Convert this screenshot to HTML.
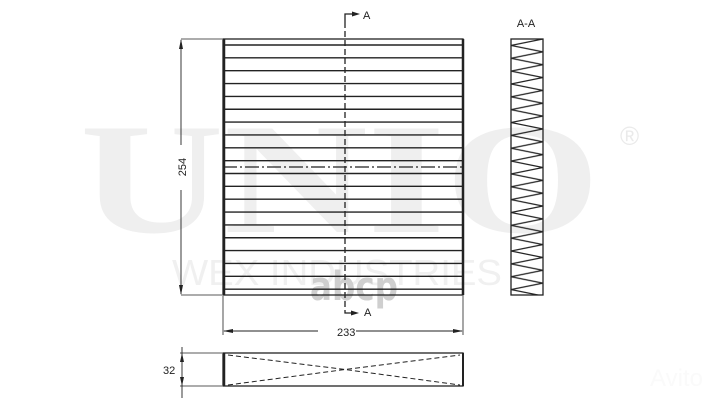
<!DOCTYPE html>
<html><head><style>html,body{margin:0;padding:0;background:#fff;width:720px;height:405px;overflow:hidden}</style></head>
<body>
<svg width="720" height="405" xmlns="http://www.w3.org/2000/svg" font-family="Liberation Sans, sans-serif">
<defs>
<pattern id="zz" x="511" y="39" width="32" height="12.85" patternUnits="userSpaceOnUse">
<path d="M32,0 L0,6.42 L32,12.85" fill="none" stroke="#222" stroke-width="1.3"/>
</pattern>
</defs>
<!-- watermarks -->
<text x="80" y="232" font-family="Liberation Serif, serif" font-weight="bold" font-size="158" fill="#efefef" textLength="520" lengthAdjust="spacingAndGlyphs">UNIO</text>
<text x="620" y="145" font-size="26" fill="#eaeaea">®</text>
<text x="172" y="285" font-size="36" fill="#f0f0f0" textLength="330" lengthAdjust="spacingAndGlyphs" font-weight="300">WEX INDUSTRIES</text>
<text x="310" y="300" font-family="DejaVu Sans, sans-serif" font-size="40" font-weight="bold" fill="#cfcfcf" textLength="88" lengthAdjust="spacingAndGlyphs">abcp</text>
<text x="650" y="386" font-size="24" fill="#fafafa">Avito</text>
<g fill="none" stroke="#222" stroke-width="1.3">
<!-- main rect -->
<rect x="223" y="39" width="240" height="256"/>
<line x1="224" y1="39" x2="224" y2="295" stroke-width="2.5"/>
<line x1="463" y1="39" x2="463" y2="295" stroke-width="2.5"/>
<path stroke-width="1.4" d="M223,45H463M223,57.85H463M223,70.7H463M223,83.55H463M223,96.4H463M223,109.25H463M223,122.1H463M223,134.95H463M223,147.8H463M223,160.65H463M223,173.5H463M223,186.35H463M223,199.2H463M223,212.05H463M223,224.9H463M223,237.75H463M223,250.6H463M223,263.45H463M223,276.3H463M223,289.15H463"/>
<line x1="223" y1="167" x2="463" y2="167" stroke-dasharray="14,3,2,3"/>
<line x1="345" y1="22" x2="345" y2="312" stroke-dasharray="6,3"/>
<!-- section markers -->
<polyline points="345,22 345,14 356,14"/>
<polyline points="345,312 345,313 355,313"/>
<!-- dim 254 -->
<line x1="181" y1="39" x2="222" y2="39" stroke-width="0.8"/>
<line x1="181" y1="295" x2="222" y2="295" stroke-width="0.8"/>
<line x1="181" y1="40" x2="181" y2="145" stroke-width="0.9"/>
<line x1="181" y1="190" x2="181" y2="294" stroke-width="0.9"/>
<!-- dim 233 -->
<line x1="223" y1="296" x2="223" y2="335" stroke-width="0.8"/>
<line x1="463" y1="296" x2="463" y2="335" stroke-width="0.8"/>
<line x1="224" y1="331" x2="318" y2="331" stroke-width="0.9"/>
<line x1="356" y1="331" x2="462" y2="331" stroke-width="0.9"/>
<!-- section A-A -->
<rect x="511" y="39" width="32" height="256" fill="url(#zz)"/>
<!-- bottom view -->
<rect x="223" y="353" width="240" height="33"/>
<line x1="224" y1="353" x2="224" y2="386" stroke-width="2.5"/>
<line x1="463" y1="353" x2="463" y2="386" stroke-width="2"/>
<path d="M228,355 L345,369.5 L460,355 M228,385 L345,369.5 L460,385" stroke-dasharray="5,3" stroke-width="1"/>
<line x1="180" y1="353" x2="222" y2="353" stroke-width="0.8"/>
<line x1="180" y1="386" x2="222" y2="386" stroke-width="0.8"/>
<line x1="182" y1="347" x2="182" y2="398" stroke-width="0.9"/>
</g>
<g fill="#222">
<polygon points="181,39 179,49 183,49"/>
<polygon points="181,295 179,285 183,285"/>
<polygon points="223,331 233,329 233,333"/>
<polygon points="463,331 453,329 453,333"/>
<polygon points="360,14 352,11.5 352,16.5"/>
<polygon points="359,313 351,310.5 351,315.5"/>
<polygon points="182,353 180,362 184,362"/>
<polygon points="182,386 180,377 184,377"/>
</g>
<g fill="#222" font-size="11">
<text x="363" y="19">A</text>
<text x="364" y="316">A</text>
<text x="526" y="27" text-anchor="middle">A-A</text>
<text x="337" y="336" font-size="11">233</text>
<text x="186" y="167" font-size="11" text-anchor="middle" transform="rotate(-90 186 167)">254</text>
<text x="163" y="374" font-size="11">32</text>
</g>
</svg>
</body></html>
